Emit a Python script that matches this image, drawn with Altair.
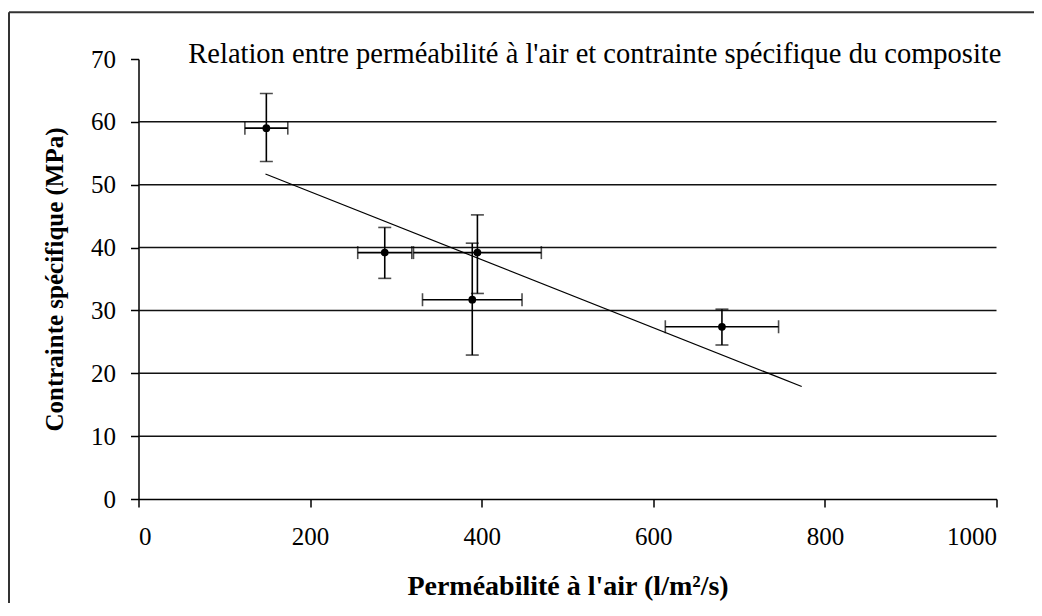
import altair as alt
import pandas as pd

# ---- data ----
permeability = [149, 287, 395, 389, 680]          # l/m²/s
perm_err = [25, 31.5, 74.5, 58, 66]               # ± horizontal error
stress = [59.0, 39.2, 39.2, 31.7, 27.4]           # MPa
stress_lo = [53.7, 35.1, 32.7, 22.9, 24.5]
stress_hi = [64.5, 43.2, 45.2, 40.7, 30.2]
trend_x = [148, 773]
trend_y = [51.7, 17.9]
grid_vals = [10, 20, 30, 40, 50, 60]
x_ticks = [0, 200, 400, 600, 800, 1000]
y_ticks = [0, 10, 20, 30, 40, 50, 60, 70]

title_text = "Relation entre perméabilité à l'air et contrainte spécifique du composite"
x_title = "Perméabilité à l'air (l/m²/s)"
y_title = "Contrainte spécifique (MPa)"

FONT = "Liberation Serif"

pts = pd.DataFrame({
    "x": permeability,
    "xlo": [p - e for p, e in zip(permeability, perm_err)],
    "xhi": [p + e for p, e in zip(permeability, perm_err)],
    "y": stress,
    "ylo": stress_lo,
    "yhi": stress_hi,
})
trend = pd.DataFrame({"x": trend_x, "y": trend_y})
grid = pd.DataFrame({"g": grid_vals})

xscale = alt.Scale(domain=[0, 1000], nice=False, zero=True)
yscale = alt.Scale(domain=[0, 70], nice=False, zero=True)

xaxis = alt.Axis(
    values=x_ticks, grid=False, title=x_title, format="d",
    domainColor="black", domainWidth=1.5, tickColor="black", tickWidth=1.5, tickSize=8,
    labelFont=FONT, labelFontSize=25, labelColor="black", labelPadding=17,
    titleFont=FONT, titleFontSize=28, titleFontWeight="bold", titleColor="black",
    titleY=95, titleBaseline="alphabetic",
)
yaxis = alt.Axis(
    values=y_ticks, grid=False, title=y_title, format="d",
    domainColor="black", domainWidth=1.5, tickColor="black", tickWidth=1.5, tickSize=8,
    labelFont=FONT, labelFontSize=25, labelColor="black", labelPadding=15,
    titleFont=FONT, titleFontSize=25, titleFontWeight="bold", titleColor="black",
    titleX=-76, titleY=220, titleAngle=270, titleBaseline="alphabetic", titleAlign="center",
)

gridlines = alt.Chart(grid).mark_rule(color="#111111", strokeWidth=1.5).encode(
    y=alt.Y("g:Q", scale=yscale, axis=yaxis),
)

# axes carriers (so both axes are drawn)
axes = alt.Chart(pts).mark_point(opacity=0).encode(
    x=alt.X("x:Q", scale=xscale, axis=xaxis),
    y=alt.Y("y:Q", scale=yscale, axis=yaxis),
)

trend_line = alt.Chart(trend).mark_line(color="black", strokeWidth=1.2).encode(
    x=alt.X("x:Q", scale=xscale),
    y=alt.Y("y:Q", scale=yscale),
)

tick_cfg = {"size": 13, "thickness": 1.6, "color": "black"}

vbars = alt.Chart(pts).mark_errorbar(ticks=tick_cfg, thickness=1.6, color="black").encode(
    x=alt.X("x:Q", scale=xscale),
    y=alt.Y("ylo:Q", scale=yscale, title=y_title),
    y2="yhi:Q",
)
hbars = alt.Chart(pts).mark_errorbar(ticks=tick_cfg, thickness=1.6, color="black").encode(
    y=alt.Y("y:Q", scale=yscale),
    x=alt.X("xlo:Q", scale=xscale, title=x_title),
    x2="xhi:Q",
)

points = alt.Chart(pts).mark_circle(color="black", size=60, opacity=1).encode(
    x=alt.X("x:Q", scale=xscale),
    y=alt.Y("y:Q", scale=yscale),
)

one = pd.DataFrame({"t": [title_text]})
title_mark = alt.Chart(one).mark_text(
    font=FONT, fontSize=28.5, color="black", align="left", baseline="alphabetic"
).encode(text="t:N", x=alt.value(49.8), y=alt.value(4))

border_top = alt.Chart(one).mark_rule(color="#333333", strokeWidth=2).encode(
    x=alt.value(-129.5), x2=alt.value(1000), y=alt.value(-46.8)
)
border_left = alt.Chart(one).mark_rule(color="#333333", strokeWidth=2).encode(
    x=alt.value(-129.5), y=alt.value(-46.8), y2=alt.value(700)
)

chart = alt.layer(
    gridlines, axes, trend_line, vbars, hbars, points, title_mark, border_top, border_left
).properties(
    width=858, height=440,
    autosize=alt.AutoSizeParams(type="none"),
    padding={"left": 130.5, "top": 51, "right": 37, "bottom": 104},
    background="white",
).configure_view(stroke=None)

chart.save("out.html", embed_options={"renderer": "svg", "actions": False})
